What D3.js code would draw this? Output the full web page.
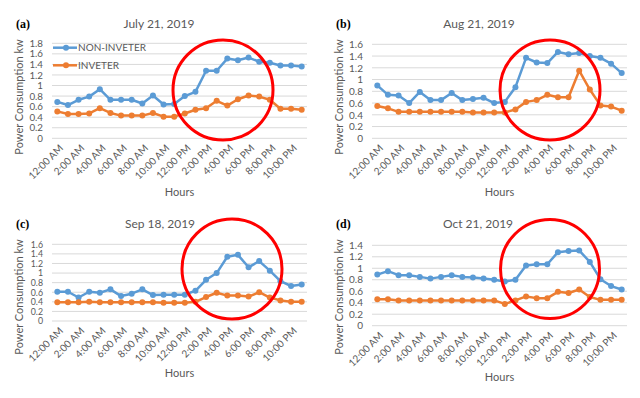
<!DOCTYPE html>
<html>
<head>
<meta charset="utf-8">
<script src="https://cdn.jsdelivr.net/npm/d3@7"></script>
<style>
  body { margin: 0; background: #fff; }
  text { font-family: Lato, "Open Sans", sans-serif; fill: #595959; }
</style>
</head>
<body>
<svg id="chart" width="640" height="398"></svg>
<script>
// Hourly categories
var hours = ["12:00 AM", "1:00 AM", "2:00 AM", "3:00 AM", "4:00 AM", "5:00 AM", "6:00 AM", "7:00 AM",
  "8:00 AM", "9:00 AM", "10:00 AM", "11:00 AM", "12:00 PM", "1:00 PM", "2:00 PM", "3:00 PM",
  "4:00 PM", "5:00 PM", "6:00 PM", "7:00 PM", "8:00 PM", "9:00 PM", "10:00 PM", "11:00 PM"];
var seriesNames = ["NON-INVETER", "INVETER"];

// (a) July 21, 2019
var julyNonInverter = [0.69, 0.63, 0.73, 0.79, 0.93, 0.73, 0.73, 0.73, 0.66, 0.81, 0.64, 0.65,
  0.80, 0.88, 1.28, 1.28, 1.51, 1.48, 1.53, 1.45, 1.43, 1.38, 1.38, 1.36];
var julyInverter = [0.51, 0.46, 0.46, 0.47, 0.57, 0.48, 0.43, 0.43, 0.43, 0.48, 0.41, 0.41,
  0.47, 0.54, 0.57, 0.71, 0.62, 0.74, 0.81, 0.79, 0.73, 0.56, 0.56, 0.54];
var julyTicks = [0, 0.2, 0.4, 0.6, 0.8, 1, 1.2, 1.4, 1.6, 1.8];

// (b) Aug 21, 2019
var augNonInverter = [0.90, 0.74, 0.73, 0.60, 0.79, 0.65, 0.65, 0.77, 0.65, 0.67, 0.69, 0.60,
  0.62, 0.87, 1.37, 1.29, 1.28, 1.47, 1.43, 1.45, 1.40, 1.37, 1.27, 1.11];
var augInverter = [0.55, 0.51, 0.45, 0.45, 0.45, 0.45, 0.45, 0.45, 0.45, 0.44, 0.44, 0.44,
  0.44, 0.49, 0.62, 0.65, 0.74, 0.70, 0.70, 1.15, 0.83, 0.56, 0.54, 0.47];
var augTicks = [0, 0.2, 0.4, 0.6, 0.8, 1, 1.2, 1.4, 1.6];

// (c) Sep 18, 2019
var sepNonInverter = [0.61, 0.61, 0.49, 0.61, 0.59, 0.66, 0.52, 0.57, 0.66, 0.54, 0.55, 0.55,
  0.55, 0.63, 0.86, 1.00, 1.34, 1.38, 1.12, 1.25, 1.05, 0.83, 0.73, 0.76];
var sepInverter = [0.39, 0.39, 0.39, 0.40, 0.39, 0.39, 0.39, 0.39, 0.39, 0.39, 0.38, 0.38,
  0.38, 0.40, 0.50, 0.59, 0.53, 0.53, 0.51, 0.60, 0.49, 0.43, 0.40, 0.40];
var sepTicks = [0, 0.2, 0.4, 0.6, 0.8, 1, 1.2, 1.4, 1.6];

// (d) Oct 21, 2019
var octNonInverter = [0.89, 0.95, 0.88, 0.88, 0.85, 0.82, 0.85, 0.88, 0.85, 0.84, 0.82, 0.80,
  0.77, 0.80, 1.05, 1.07, 1.07, 1.28, 1.30, 1.31, 1.11, 0.81, 0.69, 0.63];
var octInverter = [0.46, 0.46, 0.44, 0.44, 0.44, 0.44, 0.44, 0.44, 0.44, 0.44, 0.44, 0.44,
  0.38, 0.44, 0.51, 0.48, 0.48, 0.59, 0.57, 0.63, 0.50, 0.45, 0.45, 0.45];
var octTicks = [0, 0.2, 0.4, 0.6, 0.8, 1, 1.2, 1.4];

var colors = ["#5B9BD5", "#ED7D31"];

// Panel layouts
var panels = [
  { tag: "(a)", title: "July 21, 2019", ox: 0, oy: 0, top: 43.3, bottom: 138.3, ticks: julyTicks,
    series: [julyNonInverter, julyInverter], legend: true, titleX: 159, hoursY: 196, circle: [223, 90, 50] },
  { tag: "(b)", title: "Aug 21, 2019", ox: 320, oy: 0, top: 44.3, bottom: 138.3, ticks: augTicks,
    series: [augNonInverter, augInverter], legend: false, titleX: 159, hoursY: 196, circle: [230, 90, 50] },
  { tag: "(c)", title: "Sep 18, 2019", ox: 0, oy: 200, top: 44.3, bottom: 121, ticks: sepTicks,
    series: [sepNonInverter, sepInverter], legend: false, titleX: 160, hoursY: 177, circle: [232, 69, 50] },
  { tag: "(d)", title: "Oct 21, 2019", ox: 320, oy: 200, top: 45.3, bottom: 125.7, ticks: octTicks,
    series: [octNonInverter, octInverter], legend: false, titleX: 158, hoursY: 181, circle: [230, 69, 49.5] }
];

var svg = d3.select("#chart");

panels.forEach(function(p) {
  var g = svg.append("g").attr("transform", "translate(" + p.ox + "," + p.oy + ")");
  var left = 52, right = 307;

  var x = d3.scaleBand().domain(hours).range([left, right]);
  var y = d3.scaleLinear()
    .domain([0, d3.max(p.ticks)])
    .range([p.bottom, p.top]);

  // tick label size follows grid spacing so labels don't collide
  var step = (p.bottom - p.top) / (p.ticks.length - 1);
  var yFont = Math.min(10, step - 0.8);

  // gridlines
  g.selectAll(".grid").data(p.ticks).enter().append("line")
    .attr("x1", left).attr("x2", right)
    .attr("y1", function(d) { return y(d); })
    .attr("y2", function(d) { return y(d); })
    .attr("stroke", "#D9D9D9").attr("stroke-width", 1);

  // y axis labels
  var yAxis = d3.axisLeft(y).tickValues(p.ticks).tickSize(0).tickPadding(0)
    .tickFormat(function(d) { return d3.format("~g")(d); });
  var ya = g.append("g").attr("transform", "translate(" + (left - 9) + ",0)").call(yAxis);
  ya.select(".domain").remove();
  ya.selectAll("text").style("font-size", yFont + "px").attr("fill", "#595959")
    .attr("font-family", "Lato, 'Open Sans', sans-serif");

  // x axis labels (every 2 hours, rotated)
  var xAxis = d3.axisBottom(x)
    .tickValues(hours.filter(function(d, i) { return i % 2 === 0; }))
    .tickSize(0);
  var xa = g.append("g").attr("transform", "translate(0," + p.bottom + ")").call(xAxis);
  xa.select(".domain").remove();
  xa.selectAll("text")
    .style("font-size", "10px").attr("fill", "#595959")
    .attr("font-family", "Lato, 'Open Sans', sans-serif")
    .attr("text-anchor", "end")
    .attr("dy", "0.35em")
    .attr("transform", "translate(4,8) rotate(-45)")
    .attr("y", 0).attr("x", 0);

  // series lines + markers
  var line = d3.line()
    .x(function(d, i) { return x(hours[i]) + x.bandwidth() / 2; })
    .y(function(d) { return y(d); });

  p.series.forEach(function(vals, si) {
    g.append("path").datum(vals)
      .attr("d", line)
      .attr("fill", "none")
      .attr("stroke", colors[si])
      .attr("stroke-width", 2.5)
      .attr("stroke-linejoin", "round");
    g.selectAll(".pt" + si).data(vals).enter().append("circle")
      .attr("cx", function(d, i) { return x(hours[i]) + x.bandwidth() / 2; })
      .attr("cy", function(d) { return y(d); })
      .attr("r", 3)
      .attr("fill", colors[si]);
  });

  // legend
  if (p.legend) {
    var ly = [47.7, 65.3];
    seriesNames.forEach(function(name, si) {
      g.append("line").attr("x1", 53).attr("x2", 77)
        .attr("y1", ly[si]).attr("y2", ly[si])
        .attr("stroke", colors[si]).attr("stroke-width", 2.5);
      g.append("circle").attr("cx", 66).attr("cy", ly[si]).attr("r", 3).attr("fill", colors[si]);
      g.append("text").attr("x", 78).attr("y", ly[si]).attr("dy", "0.35em")
        .style("font-size", "10px").text(name);
    });
  }

  // titles
  g.append("text").attr("x", p.titleX).attr("y", 28)
    .attr("text-anchor", "middle").style("font-size", "12px").text(p.title);
  g.append("text").attr("x", 16).attr("y", 28)
    .style("font-family", "'Liberation Serif', 'DejaVu Serif', serif")
    .style("font-weight", "bold").style("font-size", "12px").style("fill", "#000")
    .text(p.tag);
  g.append("text").attr("transform", "translate(19," + 97 + ") rotate(-90)")
    .attr("text-anchor", "middle").attr("dy", "0.35em")
    .style("font-size", "11px").text("Power Consumption kw");
  g.append("text").attr("x", (left + right) / 2).attr("y", p.hoursY)
    .attr("text-anchor", "middle").style("font-size", "11px").text("Hours");

  // highlight circle
  g.append("circle")
    .attr("cx", p.circle[0]).attr("cy", p.circle[1]).attr("r", p.circle[2])
    .attr("fill", "none").attr("stroke", "#FF0000").attr("stroke-width", 3);
});
</script>
</body>
</html>
